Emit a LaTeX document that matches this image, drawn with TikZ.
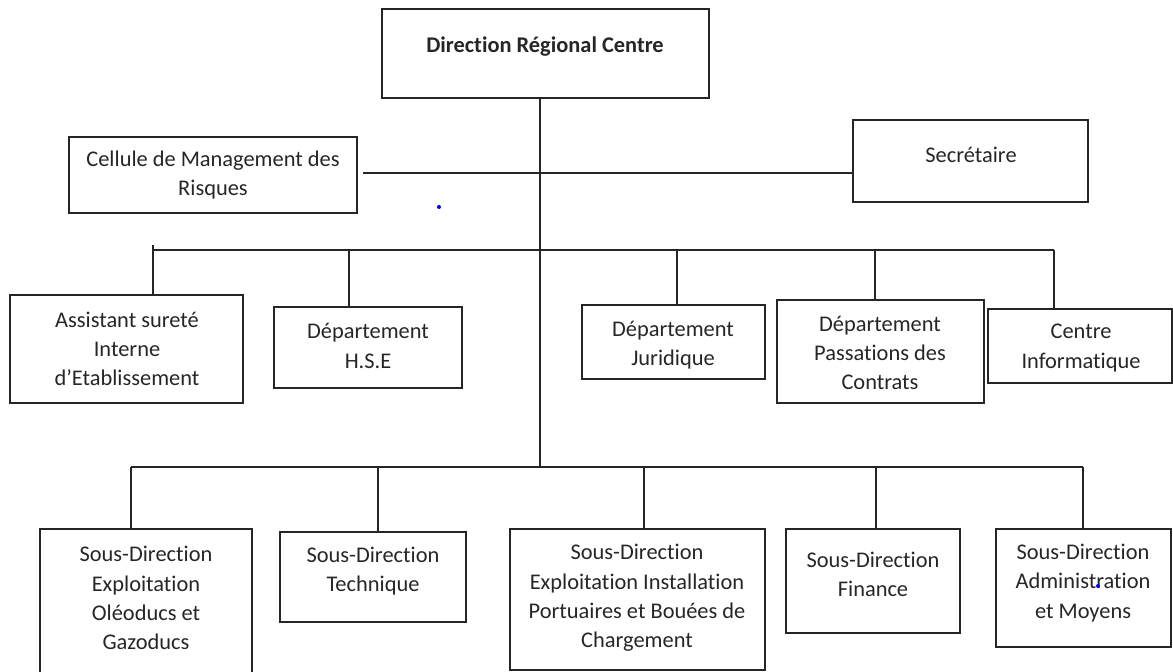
\documentclass[tikz,border=0pt]{standalone}
\usepackage{fontspec}
\setmainfont{Carlito}[Ligatures=NoCommon]
\usetikzlibrary{fit}
\definecolor{ink}{HTML}{262626}
\begin{document}
\begin{tikzpicture}[x=0.5pt,y=-0.5pt,
  box/.style={draw=ink, line width=1pt, inner sep=0pt},
  txt/.style={text=ink, align=center, inner sep=0pt,
    font=\fontsize{11.2}{14.6}\selectfont},
  wire/.style={draw=ink, line width=0.9pt},
  speck/.style={fill=blue}]
\clip (0,0) rectangle (1173,672);

% ---- boxes ----
\node[box, fit={(382,9)(709,98)}] (dir) {};
\node[box, fit={(69,137)(357,213)}] (cmr) {};
\node[box, fit={(853,120)(1088,202)}] (sec) {};

\node[box, fit={(10,295)(243,403)}] (ase) {};
\node[box, fit={(274,307)(462,388)}] (hse) {};
\node[box, fit={(582,305)(765,379)}] (jur) {};
\node[box, fit={(777,300)(984,403)}] (pas) {};
\node[box, fit={(988,309)(1172,383)}] (inf) {};

\node[box, fit={(40,529)(252,700)}] (oleo) {};
\node[box, fit={(280,532)(466,622)}] (tech) {};
\node[box, fit={(510,529)(765,670)}] (port) {};
\node[box, fit={(786,529)(960,633)}] (fin) {};
\node[box, fit={(996,529)(1171,647)}] (adm) {};

% ---- texts ----
\node[txt, font=\fontsize{11.2}{14.6}\selectfont\bfseries] (t-dir) at (545,47) {Direction Régional Centre};
\node[txt] (t-cmr) at (213,175) {Cellule de Management des\\Risques};
\node[txt] (t-sec) at (971,155) {Secrétaire};

\node[txt] (t-ase) at (127,349) {Assistant sureté\\Interne\\d’Etablissement};
\node[txt] (t-hse) at (368,346) {Département\\H.S.E};
\node[txt] (t-jur) at (673,345) {Département\\Juridique};
\node[txt] (t-pas) at (880,353) {Département\\Passations des\\Contrats};
\node[txt] (t-inf) at (1081,348) {Centre\\Informatique};

\node[txt] (t-oleo) at (146,598) {Sous-Direction\\Exploitation\\Oléoducs et\\Gazoducs};
\node[txt] (t-tech) at (373,571) {Sous-Direction\\Technique};
\node[txt] (t-port) at (637,598) {Sous-Direction\\Exploitation Installation\\Portuaires et Bouées de\\Chargement};
\node[txt] (t-fin) at (873,574) {Sous-Direction\\Finance};
\node[txt] (t-adm) at (1083,583) {Sous-Direction\\Administration\\et Moyens};

% ---- junction points ----
\coordinate (trunk) at (540,467);
\coordinate (side) at (363,173);
\coordinate (u1) at (153,250);
\coordinate (u2) at (349,250);
\coordinate (u3) at (677,250);
\coordinate (u4) at (875,250);
\coordinate (u5) at (1054,250);
\coordinate (l1) at (131,467);
\coordinate (l2) at (378,467);
\coordinate (l3) at (644,467);
\coordinate (l4) at (876,467);
\coordinate (l5) at (1083,467);

% ---- connectors ----
\draw[wire] (trunk |- dir.south) -- (trunk);
\draw[wire] (side) -- (side -| sec.west);

\draw[wire] (u1) -- (u5);
\draw[wire] ([yshift=2.5pt]u1) -- (u1 |- ase.north);
\draw[wire] (u2) -- (u2 |- hse.north);
\draw[wire] (u3) -- (u3 |- jur.north);
\draw[wire] (u4) -- (u4 |- pas.north);
\draw[wire] (u5) -- (u5 |- inf.north);

\draw[wire] (l1) -- (l5);
\draw[wire] (l1) -- (l1 |- oleo.north);
\draw[wire] (l2) -- (l2 |- tech.north);
\draw[wire] (l3) -- (l3 |- port.north);
\draw[wire] (l4) -- (l4 |- fin.north);
\draw[wire] (l5) -- (l5 |- adm.north);

% ---- stray specks ----
\fill[speck] (439,207) circle (1pt);
\fill[speck] (1098,586) circle (1pt);
\end{tikzpicture}
\end{document}
